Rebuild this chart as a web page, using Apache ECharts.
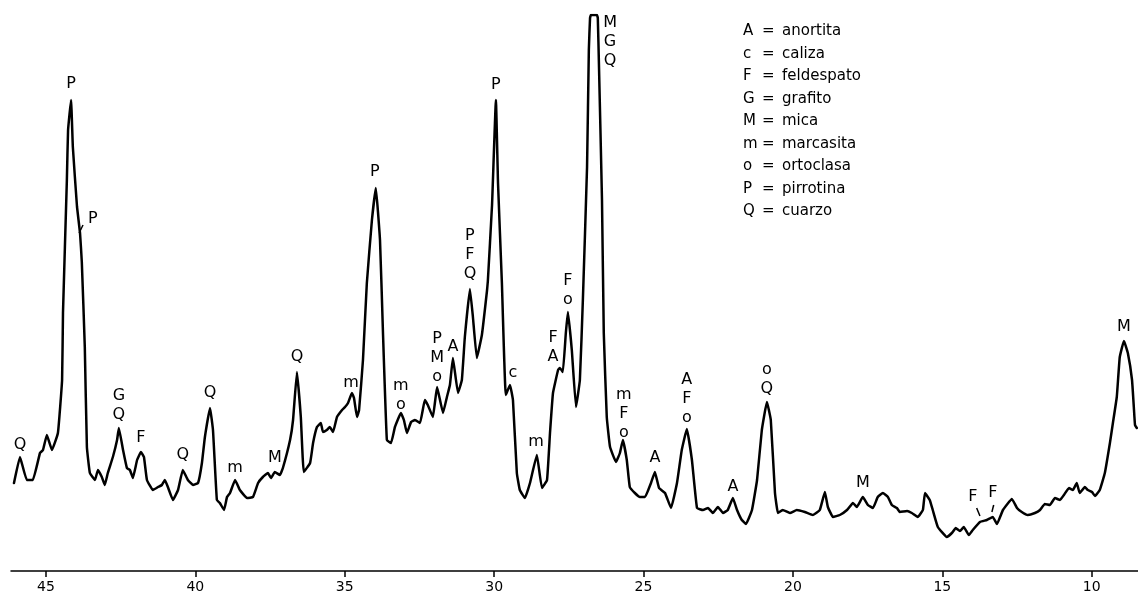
<!DOCTYPE html>
<html>
<head>
<meta charset="utf-8">
<script src="https://cdn.jsdelivr.net/npm/echarts@6/dist/echarts.min.js"></script>
<style>
  html, body { margin: 0; padding: 0; background: #fff; }
  #chart { width: 1138px; height: 596px; }
</style>
</head>
<body>
<div id="chart"></div>
<script>
// 2θ ticks
const tickValues = [10, 15, 20, 25, 30, 35, 40, 45];

// diffractogram trace: [2θ, intensity]
const trace = [
  [46.07, 88], [45.87, 114], [45.64, 91], [45.44, 91], [45.20, 118], [45.10, 121],
  [44.97, 136], [44.80, 121], [44.60, 138], [44.46, 191], [44.43, 258], [44.30, 391],
  [44.26, 441], [44.16, 471], [44.10, 424], [43.96, 364], [43.86, 338], [43.80, 309],
  [43.70, 224], [43.63, 124], [43.53, 98], [43.36, 91], [43.26, 101], [43.13, 94],
  [43.03, 86], [42.93, 98], [42.76, 114], [42.62, 131], [42.56, 143], [42.42, 121],
  [42.29, 103], [42.19, 101], [42.09, 93], [41.95, 111], [41.82, 119], [41.72, 114],
  [41.62, 91], [41.42, 81], [41.25, 84], [41.12, 86], [41.02, 91], [40.92, 84],
  [40.75, 71], [40.58, 81], [40.42, 101], [40.25, 91], [40.08, 86], [39.91, 88],
  [39.78, 108], [39.68, 134], [39.51, 163], [39.41, 141], [39.28, 71], [39.18, 68],
  [39.04, 61], [38.94, 74], [38.84, 78], [38.67, 91], [38.51, 81], [38.27, 73],
  [38.07, 74], [37.90, 88], [37.74, 94], [37.57, 98], [37.47, 93], [37.34, 99],
  [37.17, 96], [37.07, 103], [36.83, 131], [36.73, 151], [36.60, 199], [36.47, 154],
  [36.37, 99], [36.16, 108], [36.06, 128], [35.93, 144], [35.80, 148], [35.73, 139],
  [35.60, 141], [35.50, 144], [35.39, 139], [35.26, 154], [35.09, 161], [34.99, 164],
  [34.89, 168], [34.76, 178], [34.69, 173], [34.59, 154], [34.52, 161], [34.39, 211],
  [34.26, 288], [34.09, 351], [33.96, 383], [33.82, 331], [33.72, 238], [33.59, 131],
  [33.45, 128], [33.32, 144], [33.12, 158], [33.02, 151], [32.92, 138], [32.78, 149],
  [32.65, 151], [32.48, 148], [32.32, 171], [32.22, 166], [32.05, 154], [31.91, 184],
  [31.71, 158], [31.58, 174], [31.48, 186], [31.38, 213], [31.21, 178], [31.08, 191],
  [30.98, 234], [30.81, 282], [30.71, 254], [30.58, 213], [30.41, 236], [30.24, 280],
  [30.21, 290], [30.07, 366], [29.94, 471], [29.87, 388], [29.74, 288], [29.61, 176],
  [29.47, 186], [29.37, 171], [29.24, 98], [29.14, 81], [28.97, 73], [28.80, 88],
  [28.57, 116], [28.40, 83], [28.23, 91], [28.13, 138], [28.03, 178], [27.86, 201],
  [27.80, 203], [27.70, 199], [27.60, 238], [27.53, 259], [27.40, 221], [27.26, 164],
  [27.13, 191], [27.03, 271], [26.89, 404], [26.83, 521], [26.79, 553], [26.76, 556],
  [26.56, 556], [26.53, 553], [26.49, 504], [26.39, 371], [26.33, 238], [26.23, 154],
  [26.12, 124], [25.92, 109], [25.79, 118], [25.69, 131], [25.56, 111], [25.46, 84],
  [25.29, 78], [25.12, 74], [24.95, 74], [24.75, 88], [24.62, 99], [24.48, 83],
  [24.28, 78], [24.08, 63], [23.88, 88], [23.72, 121], [23.55, 142], [23.38, 111],
  [23.21, 63], [23.01, 61], [22.84, 63], [22.68, 58], [22.51, 64], [22.34, 58],
  [22.18, 61], [22.01, 73], [21.87, 61], [21.71, 51], [21.57, 47], [21.37, 61],
  [21.20, 91], [21.04, 141], [20.87, 169], [20.74, 151], [20.60, 78], [20.50, 58],
  [20.34, 61], [20.10, 58], [19.87, 61], [19.60, 59], [19.33, 56], [19.10, 61],
  [18.93, 79], [18.83, 64], [18.66, 54], [18.43, 56], [18.19, 61], [17.99, 68],
  [17.86, 64], [17.66, 74], [17.49, 66], [17.32, 63], [17.16, 74], [16.99, 78],
  [16.82, 74], [16.69, 66], [16.52, 63], [16.42, 59], [16.18, 60], [16.02, 58],
  [15.82, 54], [15.65, 61], [15.58, 78], [15.42, 71], [15.32, 61], [15.15, 44],
  [14.85, 34], [14.68, 38], [14.55, 43], [14.41, 40], [14.28, 44], [14.11, 36],
  [13.98, 41], [13.74, 49], [13.51, 51], [13.31, 54], [13.17, 47], [12.97, 61],
  [12.67, 72], [12.50, 63], [12.34, 59], [12.14, 56], [11.90, 58], [11.73, 61],
  [11.57, 67], [11.40, 66], [11.23, 73], [11.06, 71], [10.93, 76], [10.76, 83],
  [10.63, 81], [10.50, 88], [10.40, 78], [10.23, 84], [10.13, 81], [9.99, 79],
  [9.89, 75], [9.73, 81], [9.56, 98], [9.39, 128], [9.29, 148], [9.16, 174],
  [9.06, 214], [8.92, 230], [8.79, 218], [8.65, 191], [8.59, 164], [8.55, 146],
  [8.49, 143]
];

// peak annotations: [2θ, label centre height, text]
const peakLabels = [
  [45.87, 126, 'Q'], [44.16, 487, 'P'], [43.43, 352, 'P'], [42.56, 166, 'G\nQ'],
  [41.82, 133, 'F'], [40.42, 116, 'Q'], [39.51, 178, 'Q'], [38.67, 103, 'm'],
  [37.34, 113, 'M'], [36.60, 214, 'Q'], [34.79, 188, 'm'], [33.99, 399, 'P'],
  [33.12, 176, 'm\no'], [31.91, 213, 'P\nM\no'], [31.38, 224, 'A'], [30.81, 316, 'P\nF\nQ'],
  [29.94, 486, 'P'], [29.37, 198, 'c'], [28.60, 129, 'm'], [28.03, 224, 'F\nA'],
  [27.53, 281, 'F\no'], [26.12, 529, 'M\nG\nQ'], [25.66, 157, 'm\nF\no'], [24.62, 113, 'A'],
  [23.55, 172, 'A\nF\no'], [22.01, 84, 'A'], [20.87, 192, 'o\nQ'], [17.66, 88, 'M'],
  [13.98, 74, 'F'], [13.31, 78, 'F'], [8.92, 244, 'M']
];

// short leader strokes from labels to the trace
const leaders = [
  [[43.76, 346], [43.89, 338]],
  [[13.85, 63], [13.74, 55]],
  [[13.28, 66], [13.34, 59]]
];

// key of mineral abbreviations
const keyLetters = ['A', 'c', 'F', 'G', 'M', 'm', 'o', 'P', 'Q'];
const keyNames = ['anortita', 'caliza', 'feldespato', 'grafito', 'mica', 'marcasita', 'ortoclasa', 'pirrotina', 'cuarzo'];

const font = 'DejaVu Sans';
const ink = '#000';

const chart = echarts.init(document.getElementById('chart'));

const keyGraphics = [];
keyLetters.forEach((l, i) => {
  const y = 33 + i * 22.5;
  keyGraphics.push({ type: 'text', left: 743, top: y - 9, style: { text: l, font: '15px ' + font, fill: ink } });
  keyGraphics.push({ type: 'text', left: 762, top: y - 9, style: { text: '=', font: '15px ' + font, fill: ink } });
  keyGraphics.push({ type: 'text', left: 782, top: y - 9, style: { text: keyNames[i], font: '15px ' + font, fill: ink } });
});

chart.setOption({
  animation: false,
  backgroundColor: '#fff',
  grid: { left: 11, right: 0, top: 15, bottom: 25 },
  xAxis: {
    type: 'value',
    min: 8.45,
    max: 46.17,
    inverse: true,
    axisLine: { lineStyle: { color: ink, width: 1.5 } },
    axisTick: { customValues: tickValues, length: 6, lineStyle: { color: ink, width: 1.5 } },
    axisLabel: { customValues: tickValues, color: ink, fontSize: 14, fontFamily: font, margin: 9 },
    splitLine: { show: false }
  },
  yAxis: { type: 'value', min: 0, max: 556, show: false },
  graphic: keyGraphics,
  series: [
    {
      type: 'line',
      data: trace,
      showSymbol: false,
      smooth: 0.1,
      lineStyle: { color: ink, width: 2.5, join: 'round', cap: 'round' }
    },
    {
      type: 'lines',
      coordinateSystem: 'cartesian2d',
      data: leaders.map(c => ({ coords: c })),
      lineStyle: { color: ink, width: 1.5, opacity: 1 }
    },
    {
      type: 'scatter',
      data: peakLabels.map(d => ({ value: [d[0], d[1]], name: d[2] })),
      symbolSize: 0,
      itemStyle: { opacity: 1 },
      label: {
        show: true,
        position: 'inside',
        formatter: p => p.name,
        color: ink,
        fontSize: 16,
        fontFamily: font,
        lineHeight: 19,
        align: 'center',
        verticalAlign: 'middle'
      }
    }
  ]
});
</script>
</body>
</html>
